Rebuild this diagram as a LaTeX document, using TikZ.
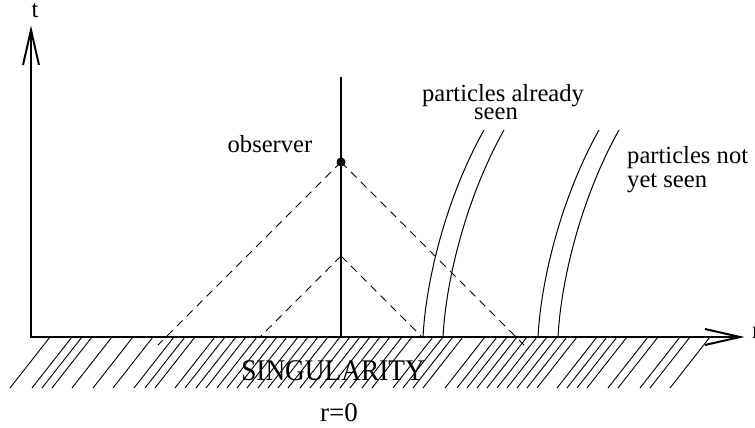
\documentclass[tikz,border=0pt]{standalone}
\usepackage{fontspec}
\setmainfont{Liberation Serif}
\begin{document}
\begin{tikzpicture}[x=1pt,y=-1pt,
  lbl/.style={inner sep=0pt, font=\fontsize{24.6}{28}\selectfont},
  axisline/.style={line width=2.4pt, line join=miter},
  headline/.style={line width=2pt, line join=miter},
  wline/.style={line width=1pt},
  cone/.style={line width=0.9pt, dash pattern=on 8pt off 6pt},
  hatchline/.style={line width=0.9pt}]
\useasboundingbox (0,0) rectangle (755,428);
% key points
\coordinate (O) at (31,337);
\coordinate (Ttip) at (31,30);
\coordinate (Rtip) at (740,337);
\coordinate (obsTop) at (341,77);
\coordinate (obsBot) at (341,337);
\coordinate (E) at (341,162);
\coordinate (E2) at (341,256);
\coordinate (cl) at (158,345);
\coordinate (cr) at (524,345);
\coordinate (sl) at (260,337);
\coordinate (sr) at (422,337);
% hatching of the singularity
\foreach \b in {10,32,42,52,72,93,113,134,145,155,175,185,196,206,217,227,237,247,258,268,278,288,300,310,320,330,340,350,362,372,393,403,413,423,445,457,467,477,487,497,507,517,527,537,557,567,577,587,608,618,640,650,670}
  \draw[hatchline] (\b,388) -- ++(40,-51);
% axes
\draw[axisline] (Ttip) -- (O) -- (Rtip);
\draw[headline] (23,65) -- (Ttip) -- (39,65);
\draw[headline] (705,329) -- (Rtip) -- (705,345);
% observer world line
\draw[line width=2pt] (obsBot) -- (obsTop);
\fill (E) circle (4.5);
% light cones
\draw[cone] (E) -- (cl);
\draw[cone] (E) -- (cr);
\draw[cone] (E2) -- (sl);
\draw[cone] (E2) -- (sr);
% particle world lines
\foreach \s in {0,20,115,135}
  \draw[wline, xshift=\s pt] (423,337) .. controls (426,280) and (446,198) .. (484,130);
% labels
\node[lbl, anchor=base] (tlab) at (35,18) {t};
\node[lbl, anchor=base] (obs) at (270,152) {observer};
\node[lbl, anchor=base] (pa1) at (503,102) {particles already};
\node[lbl, anchor=base] (pa2) at (496,119) {seen};
\node[lbl, anchor=base west] (pn1) at (627,163) {particles not};
\node[lbl, anchor=base west] (pn2) at (627,187) {yet seen};
\node[inner sep=0pt, anchor=base, font=\fontsize{30}{32}\selectfont, xscale=0.91] (sing) at (333,380) {SINGULARITY};
\node[inner sep=0pt, anchor=base, font=\fontsize{27}{30}\selectfont] (r0) at (339,421) {r=0};
\node[lbl, anchor=base west] (rlab) at (752,338) {r};
\end{tikzpicture}
\end{document}
